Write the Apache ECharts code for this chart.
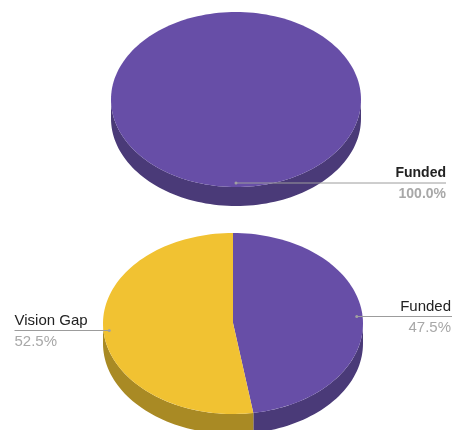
<!DOCTYPE html>
<html>
<head>
<meta charset="utf-8">
<style>
html, body { margin: 0; padding: 0; background: #fff; }
#main { width: 453px; height: 430px; }
</style>
<script src="https://cdn.jsdelivr.net/npm/echarts@6/dist/echarts.min.js"></script>
</head>
<body>
<div id="main"></div>
<script>
var topNames = ['Funded'];
var topValues = [100];
var bottomNames = ['Funded', 'Vision Gap'];
var bottomValues = [47.5, 52.5];

var faceColors = ['#674ea7', '#f1c232'];
var wallColors = ['#4a3a78', '#a98a24'];

var myChart = echarts.init(document.getElementById('main'));

function pt(pie, deg, k, dy) {
    var a = deg * Math.PI / 180;
    return [pie.cx + pie.rx * k * Math.sin(a), pie.cy + (dy || 0) - pie.ry * k * Math.cos(a)];
}

function arc(pie, from, to, dy) {
    var pts = [];
    var n = Math.max(2, Math.ceil(Math.abs(to - from) / 2));
    for (var i = 0; i <= n; i++) {
        pts.push(pt(pie, from + (to - from) * i / n, 1, dy));
    }
    return pts;
}

// one pie = flat ellipse face + darker front wall + leader line and two texts
function pieSeries(names, values, pie) {
    var total = values.reduce(function (a, b) { return a + b; }, 0);
    var sum = 0;
    var rows = values.map(function (v, i) {
        var row = [v, sum, i];
        sum += v;
        return row;
    });
    return {
        type: 'custom',
        silent: true,
        coordinateSystem: 'none',
        data: rows,
        renderItem: function (params, api) {
            var i = api.value(2);
            var from = api.value(1) / total * 360;
            var to = from + api.value(0) / total * 360;
            var children = [];

            var wFrom = Math.max(from, 90), wTo = Math.min(to, 270);
            if (wTo > wFrom) {
                children.push({
                    type: 'polygon',
                    shape: { points: arc(pie, wFrom, wTo, 0).concat(arc(pie, wTo, wFrom, pie.depth)) },
                    style: { fill: wallColors[i] }
                });
            }
            var face = arc(pie, from, to, 0);
            if (to - from < 360) {
                face.push([pie.cx, pie.cy - 0.5]);
            }
            children.push({
                type: 'polygon',
                z2: 5,
                shape: { points: face },
                style: { fill: faceColors[i] }
            });

            var mid = (from + to) / 2;
            var dot = pt(pie, mid, 0.955);
            var y = Math.floor(dot[1]) + pie.lineSnap;
            var onRight = mid <= 180;
            var lineEnd = onRight ? pie.lineRight : pie.labelLeft;
            var end = onRight ? pie.labelRight : pie.labelLeft;
            var align = onRight ? 'right' : 'left';
            children.push({
                type: 'line',
                z2: 10,
                shape: { x1: dot[0], y1: y, x2: lineEnd, y2: y },
                style: { stroke: '#9c9c9c', lineWidth: 1 }
            });
            children.push({
                type: 'circle',
                z2: 11,
                shape: { cx: dot[0], cy: y, r: 1.5 },
                style: { fill: '#a0a0a0' }
            });
            children.push({
                type: 'text',
                z2: 12,
                x: end,
                y: y + pie.nameOffset,
                style: {
                    text: names[i],
                    fill: '#222222',
                    font: pie.font,
                    align: align,
                    verticalAlign: 'middle'
                }
            });
            children.push({
                type: 'text',
                z2: 12,
                x: end,
                y: y + pie.valueOffset,
                style: {
                    text: (api.value(0) / total * 100).toFixed(1) + '%',
                    fill: '#a8a8a8',
                    font: pie.font,
                    align: align,
                    verticalAlign: 'middle'
                }
            });
            return { type: 'group', children: children };
        }
    };
}

var option = {
    animation: false,
    backgroundColor: '#ffffff',
    series: [
        pieSeries(topNames, topValues, {
            cx: 236, cy: 99.5, rx: 125, ry: 87.5, depth: 19,
            labelRight: 446, lineRight: 446, labelLeft: 14, lineSnap: 0,
            nameOffset: -9.5, valueOffset: 11,
            font: 'bold 14px "Liberation Sans", Arial, sans-serif'
        }),
        pieSeries(bottomNames, bottomValues, {
            cx: 233, cy: 323.5, rx: 130, ry: 90.5, depth: 20,
            labelRight: 451, lineRight: 452, labelLeft: 14.5, lineSnap: 0.5,
            nameOffset: -9.5, valueOffset: 11.5,
            font: '15px "Liberation Sans", Arial, sans-serif'
        })
    ]
};
myChart.setOption(option);
</script>
</body>
</html>
